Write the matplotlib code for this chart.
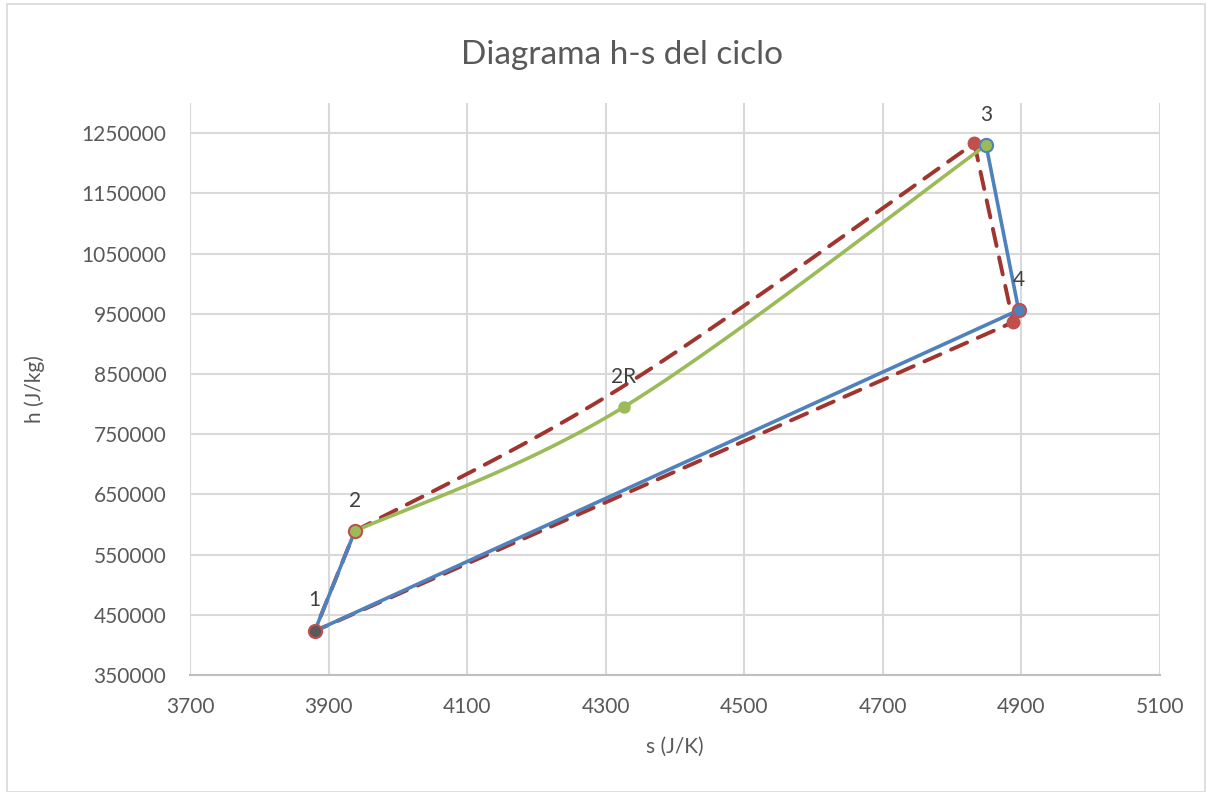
import numpy as np
import matplotlib
matplotlib.use("Agg")
import matplotlib.pyplot as plt
from matplotlib.patches import Rectangle

# Cycle state points: entropy s (J/K) and enthalpy h (J/kg)
point_labels = ["1", "2", "2R", "3", "4"]
s_points = [3880, 3938, 4326, 4849, 4896]
h_points = [423000, 589000, 795000, 1230000, 956000]

# Ideal cycle (dashed): heat addition 2 -> 2R -> 3, then 3 -> 4 -> 1 -> 2
s_ideal_heat = [3938, 4326, 4832]
h_ideal_heat = [589000, 830000, 1233000]
s_ideal_rest = [4832, 4888, 3880, 3938]
h_ideal_rest = [1233000, 936000, 423000, 589000]
s_ideal_mk = [4832, 4888]
h_ideal_mk = [1233000, 936000]

# Real cycle segments (blue): 1 -> 2 and 3 -> 4 -> 1
s_real_a = [3880, 3938]
h_real_a = [423000, 589000]
s_real_b = [4849, 4896, 3880]
h_real_b = [1230000, 956000, 423000]

# Heat addition curve (green): 2 -> 2R -> 3
s_heat = [3938, 4326, 4849]
h_heat = [589000, 795000, 1230000]

x_ticks = [3700, 3900, 4100, 4300, 4500, 4700, 4900, 5100]
y_ticks = [350000, 450000, 550000, 650000, 750000, 850000, 950000,
           1050000, 1150000, 1250000]

BLUE = "#4F81BD"
RED = "#A0352F"
RED_MK = "#C0504D"
GREEN = "#9BBB59"
TEXT = "#595959"
GRID = "#D9D9D9"

plt.rcParams["font.family"] = ["Lato", "DejaVu Sans"]


def smooth(xs, ys, n=60):
    """Bezier smoothing through the given points (spreadsheet style)."""
    p = np.column_stack([xs, ys]).astype(float)
    p = np.vstack([p[0], p, p[-1]])
    out = []
    for i in range(1, len(p) - 2):
        p0, p1, p2, p3 = p[i - 1], p[i], p[i + 1], p[i + 2]
        c1 = p1 + (p2 - p0) / 6.0
        c2 = p2 - (p3 - p1) / 6.0
        t = np.linspace(0, 1, n)[:, None]
        seg = ((1 - t) ** 3) * p1 + 3 * ((1 - t) ** 2) * t * c1 \
            + 3 * (1 - t) * t ** 2 * c2 + t ** 3 * p2
        out.append(seg if i == 1 else seg[1:])
    out = np.vstack(out)
    return out[:, 0], out[:, 1]


fig = plt.figure(figsize=(12.07, 7.92), dpi=100)
fig.patches.append(Rectangle((7 / 1207, 0), 1 - 9 / 1207, 1 - 4 / 792,
                             transform=fig.transFigure, fill=False,
                             edgecolor="#D9D9D9", linewidth=1.2))
ax = fig.add_axes([190 / 1207, 1 - 675 / 792, 970 / 1207, 572 / 792])

ax.set_xlim(3700, 5100)
ax.set_ylim(350000, 1300000)
ax.set_xticks(x_ticks)
ax.set_yticks(y_ticks)
ax.set_xticklabels([str(v) for v in x_ticks])
ax.set_yticklabels([str(v) for v in y_ticks])
ax.grid(True, color=GRID, linewidth=1.5)
ax.set_axisbelow(True)
for side in ["top", "right", "left"]:
    ax.spines[side].set_visible(False)
ax.spines["bottom"].set_color("#BFBFBF")
ax.spines["bottom"].set_linewidth(1.5)
ax.tick_params(axis="both", length=0, labelsize=15, colors=TEXT)
ax.tick_params(axis="y", pad=17)
ax.tick_params(axis="x", pad=16)

# Ideal cycle
dash_kw = dict(color=RED, linewidth=2.8, dashes=(4.5, 3),
               dash_capstyle="round", zorder=2)
rx, ry = smooth(s_ideal_heat, h_ideal_heat)
ax.plot(rx, ry, **dash_kw)
ax.plot(s_ideal_rest, h_ideal_rest, **dash_kw)
ax.plot(s_ideal_mk, h_ideal_mk, linestyle="none", marker="o",
        markersize=9, markerfacecolor=RED_MK, markeredgecolor=RED_MK, zorder=3)

# Heat addition curve
gx, gy = smooth(s_heat, h_heat)
ax.plot(gx, gy, color=GREEN, linewidth=2.6, zorder=4)

# Real cycle
ax.plot(s_real_a, h_real_a, color=BLUE, linewidth=2.6, zorder=5)
ax.plot(s_real_b, h_real_b, color=BLUE, linewidth=2.6, zorder=5)

# State point markers
face = ["#595959", GREEN, GREEN, GREEN, BLUE]
edge = [RED_MK, RED_MK, GREEN, BLUE, RED_MK]
size = [9.5, 9.5, 7.5, 9.5, 9.5]
for s, h, fc, ec, ms in zip(s_points, h_points, face, edge, size):
    ax.plot([s], [h], linestyle="none", marker="o", markersize=ms,
            markerfacecolor=fc, markeredgecolor=ec, markeredgewidth=1.5,
            zorder=6)

for lab, s, h in zip(point_labels, s_points, h_points):
    ax.annotate(lab, (s, h), xytext=(0, 22), textcoords="offset points",
                ha="center", va="center", fontsize=15, color="#404040",
                zorder=7)

ax.set_xlabel("s (J/K)", fontsize=15, color=TEXT, labelpad=14)
ax.set_ylabel("h (J/kg)", fontsize=15, color=TEXT, labelpad=26)
fig.text(622 / 1207, 1 - 55 / 792, "Diagrama h-s del ciclo", ha="center",
         va="center", fontsize=24, color=TEXT)

fig.savefig("out.png", dpi=100, facecolor="white")
